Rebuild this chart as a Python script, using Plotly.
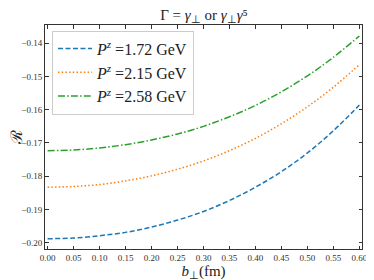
import plotly.graph_objects as go

b_perp = [0.0, 0.05, 0.10, 0.15, 0.20, 0.25, 0.30, 0.35, 0.40, 0.45, 0.50, 0.55, 0.60]
r_172 = [-0.1988, -0.1986, -0.1979, -0.1969, -0.1953, -0.1932, -0.1906, -0.1873, -0.1833, -0.1786, -0.1730, -0.1663, -0.1586]
r_215 = [-0.1833, -0.1831, -0.1825, -0.1814, -0.1799, -0.1779, -0.1754, -0.1723, -0.1686, -0.1642, -0.1591, -0.1532, -0.1464]
r_258 = [-0.1723, -0.1721, -0.1715, -0.1705, -0.1691, -0.1673, -0.1650, -0.1621, -0.1587, -0.1546, -0.1498, -0.1442, -0.1378]
names = ["<i>P</i><sup><i>z</i></sup> =1.72 GeV", "<i>P</i><sup><i>z</i></sup> =2.15 GeV", "<i>P</i><sup><i>z</i></sup> =2.58 GeV"]
x_ticks = [0.0, 0.05, 0.10, 0.15, 0.20, 0.25, 0.30, 0.35, 0.40, 0.45, 0.50, 0.55, 0.60]
y_ticks = [-0.20, -0.19, -0.18, -0.17, -0.16, -0.15, -0.14]

colors = ["#1f77b4", "#ff7f0e", "#2ca02c"]
dashes = ["5px,2.5px", "1.5px,2.2px", "7px,2.2px,1.5px,2.2px"]
font = "Liberation Serif"

fig = go.Figure()
for ys, nm, c, d in zip([r_172, r_215, r_258], names, colors, dashes):
    fig.add_trace(go.Scatter(x=b_perp, y=ys, mode="lines", name=nm,
                             line=dict(color=c, dash=d, width=1.5, shape="spline")))

axis_common = dict(showline=True, linecolor="#333333", linewidth=1, mirror="ticks",
                   ticks="inside", ticklen=3.5, tickwidth=0.8, tickcolor="#333333",
                   showgrid=False, zeroline=False, automargin=False,
                   tickfont=dict(family=font, size=9, color="#333333"))

# the page body places the figure 8px in from the top-left; margins compensate
fig.update_layout(
    width=374, height=280,
    margin=dict(l=37, r=20, t=17, b=39),
    paper_bgcolor="white", plot_bgcolor="white",
    title=dict(text="Γ = <i>γ</i><sub>⊥</sub> or <i>γ</i><sub>⊥</sub><i>γ</i>⁵",
               x=0.524, xanchor="center", y=1.0, yanchor="top", pad=dict(t=1),
               font=dict(family=font, size=15, color="#222222")),
    xaxis=dict(range=[-0.005, 0.605], tickvals=x_ticks, tickformat=".2f",
               title=dict(text="<i>b</i><sub>⊥</sub>(fm)", standoff=3,
                          font=dict(family=font, size=15, color="#222222")),
               **axis_common),
    yaxis=dict(range=[-0.2019, -0.1345], tickvals=y_ticks, tickformat=".2f",
               title=dict(text="ℛ", standoff=4,
                          font=dict(family=font, size=16, color="#222222")),
               **axis_common),
    legend=dict(x=0.022, y=0.975, xanchor="left", yanchor="top",
                bgcolor="rgba(255,255,255,0.8)", bordercolor="#cccccc", borderwidth=1,
                font=dict(family=font, size=16, color="#222222"),
                itemwidth=34, tracegroupgap=0),
    showlegend=True,
)

fig.write_html("out.html")
